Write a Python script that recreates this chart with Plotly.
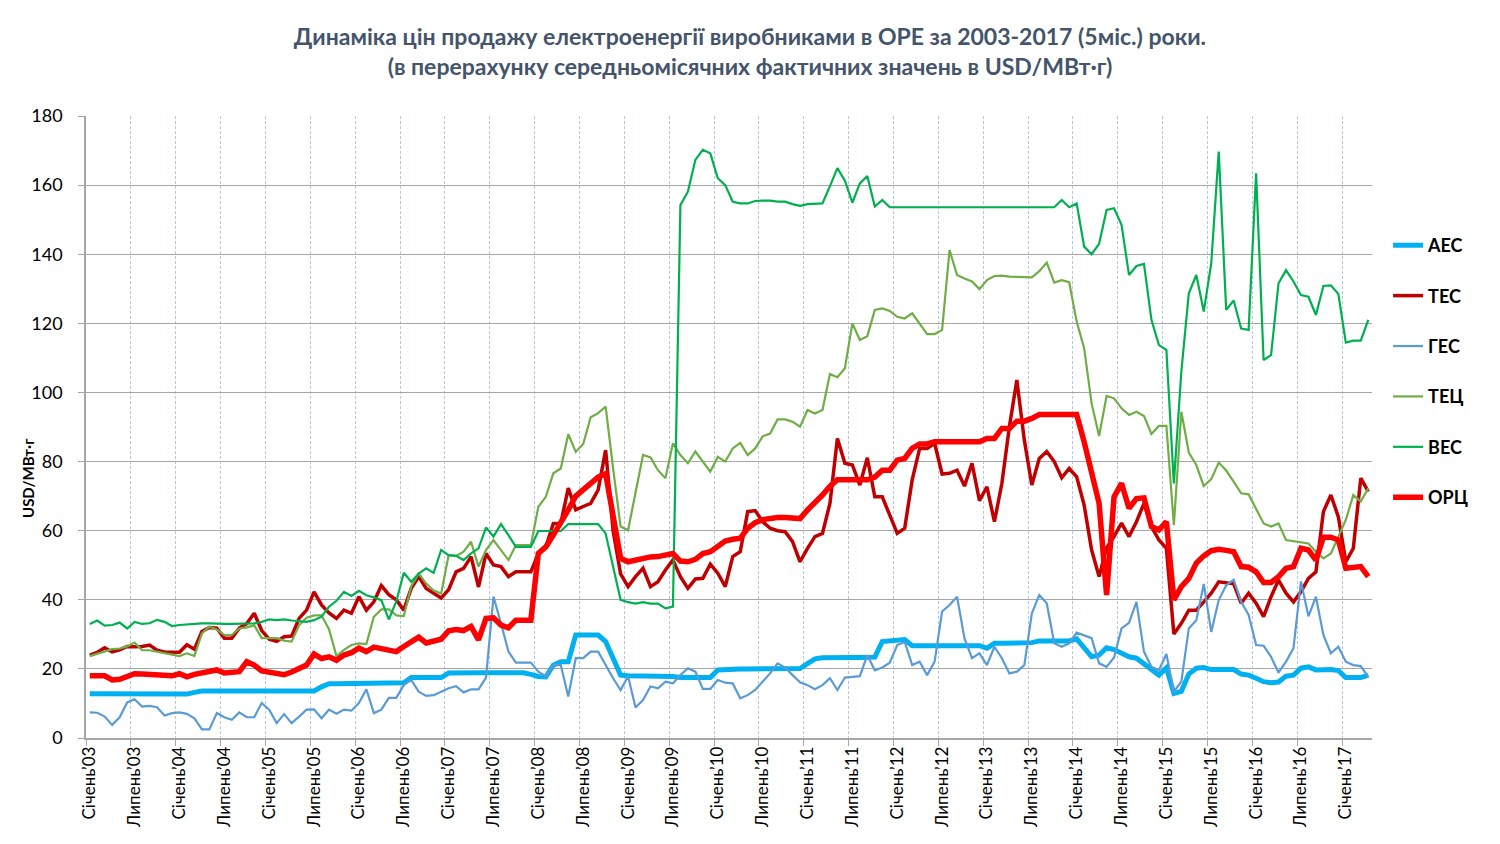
import plotly.graph_objects as go

months = list(range(172))

tick_labels = ["Січень’03", "Липень’03", "Січень’04", "Липень’04", "Січень’05", "Липень’05",
               "Січень’06", "Липень’06", "Січень’07", "Липень’07", "Січень’08", "Липень’08",
               "Січень’09", "Липень’09", "Січень’10", "Липень’10", "Січень’11", "Липень’11",
               "Січень’12", "Липень’12", "Січень’13", "Липень’13", "Січень’14", "Липень’14",
               "Січень’15", "Липень’15", "Січень’16", "Липень’16", "Січень’17"]
tick_positions = [0, 6, 12, 18, 24, 30, 36, 42, 48, 54, 60, 66, 72, 78, 84, 90, 96, 102,
                  108, 114, 120, 126, 132, 138, 144, 150, 156, 162, 168]
grid_positions = [-0.5, 5.5, 11.5, 17.5, 23.5, 29.5, 35.5, 41.5, 47.5, 53.5, 59.5, 65.5, 71.5,
                  77.5, 83.5, 89.5, 95.5, 101.5, 107.5, 113.5, 119.5, 125.5, 131.5, 137.5,
                  143.5, 149.5, 155.5, 161.5, 167.5]

aes = [12.8, 12.8, 12.8, 12.8, 12.8, 12.8, 12.8, 12.8, 12.8, 12.8, 12.8, 12.8,
       12.8, 12.7, 13.2, 13.6, 13.6, 13.6, 13.6, 13.6, 13.6, 13.6, 13.6, 13.6,
       13.6, 13.6, 13.6, 13.6, 13.6, 13.6, 13.6, 14.8, 15.7, 15.7, 15.7, 15.7,
       15.7, 15.7, 15.7, 15.7, 15.7, 15.7, 16.0, 17.5, 17.5, 17.5, 17.5, 17.5,
       18.8, 18.9, 18.9, 18.9, 18.9, 18.9, 18.9, 18.9, 18.9, 18.9, 18.9, 18.4,
       17.8, 17.7, 21.1, 22.1, 22.1, 29.8, 29.8, 29.8, 29.8, 27.9, 23.0, 18.2,
       18.0, 18.0, 18.0, 18.0, 18.0, 18.0, 17.8, 17.5, 17.5, 17.5, 17.5, 17.5,
       19.7, 19.9, 20.0, 20.0, 20.0, 20.0, 20.0, 20.1, 20.1, 20.1, 20.1, 20.1,
       21.5, 22.9, 23.2, 23.3, 23.3, 23.3, 23.3, 23.3, 23.3, 23.4, 27.9, 28.0,
       28.3, 28.5, 26.7, 26.7, 26.7, 26.7, 26.7, 26.7, 26.7, 26.7, 26.7, 26.7,
       26.0, 27.4, 27.4, 27.4, 27.4, 27.4, 27.6, 28.1, 28.1, 28.1, 28.1, 28.1,
       28.7, 26.0, 23.5, 24.0, 26.1, 25.6, 24.5, 23.5, 23.1, 21.5, 19.7, 18.2,
       20.3, 12.9, 13.5, 18.5, 20.2, 20.4, 19.8, 19.9, 19.9, 19.8, 18.5, 18.2,
       17.3, 16.3, 16.0, 16.2, 17.9, 18.2, 20.2, 20.6, 19.7, 19.9, 19.8, 19.5,
       17.5, 17.5, 17.5, 18.2]

tes = [24.0, 24.8, 26.1, 24.9, 25.5, 26.5, 26.4, 26.5, 26.9, 25.4, 24.9, 24.9,
       24.8, 27.0, 25.7, 30.8, 32.0, 31.8, 28.9, 28.9, 31.8, 33.1, 36.1, 31.1,
       28.6, 28.0, 29.3, 29.5, 34.6, 37.0, 42.3, 38.5, 36.2, 34.6, 37.0, 36.1,
       40.9, 37.0, 39.4, 44.1, 41.5, 40.0, 37.0, 43.3, 46.7, 43.3, 42.0, 40.5,
       42.9, 48.1, 49.1, 52.5, 43.7, 53.4, 50.1, 49.6, 46.7, 48.1, 48.1, 48.1,
       53.4, 55.3, 62.1, 62.1, 72.3, 66.0, 67.0, 67.9, 71.8, 83.3, 60.0, 47.5,
       43.8, 46.7, 49.1, 43.8, 45.2, 48.6, 51.5, 46.7, 43.3, 46.0, 46.2, 50.3,
       47.7, 43.8, 52.5, 53.9, 65.5, 65.8, 62.6, 60.7, 60.0, 59.7, 56.8, 51.0,
       54.9, 58.3, 59.2, 67.9, 86.7, 79.5, 79.0, 73.2, 81.1, 69.8, 69.8, 64.5,
       59.2, 60.7, 74.7, 83.8, 83.8, 85.3, 76.4, 76.6, 77.5, 72.9, 79.5, 68.7,
       72.7, 62.6, 73.7, 90.1, 103.6, 86.2, 73.2, 80.9, 82.9, 80.0, 75.3, 78.0,
       75.6, 67.4, 54.4, 46.7, 55.0, 58.3, 62.2, 58.3, 62.6, 67.9, 61.2, 57.3,
       54.9, 30.1, 33.2, 37.0, 37.0, 39.4, 41.9, 45.2, 44.8, 44.6, 39.0, 41.9,
       39.0, 35.1, 40.9, 45.7, 41.9, 39.4, 42.3, 46.2, 48.1, 65.5, 70.3, 64.0,
       51.0, 54.9, 75.2, 71.3]

ges = [7.4, 7.3, 6.2, 3.8, 6.0, 10.3, 11.2, 9.1, 9.3, 8.9, 6.5, 7.2,
       7.4, 7.0, 5.7, 2.5, 2.5, 7.2, 6.0, 5.3, 7.4, 6.0, 6.0, 10.1,
       8.2, 4.3, 6.9, 4.3, 6.2, 8.2, 8.3, 5.7, 8.2, 7.0, 8.2, 7.9,
       10.1, 14.1, 7.2, 8.2, 11.6, 11.6, 15.3, 16.8, 13.4, 12.2, 12.4, 13.4,
       14.4, 15.0, 13.2, 14.1, 14.1, 17.5, 40.9, 33.2, 25.0, 21.8, 21.8, 21.8,
       19.2, 17.9, 21.1, 21.1, 12.0, 23.1, 23.1, 25.0, 25.0, 21.1, 17.3, 13.9,
       17.9, 8.8, 11.0, 14.9, 14.4, 16.3, 15.8, 18.2, 20.2, 19.2, 14.2, 14.2,
       16.8, 16.0, 15.8, 11.5, 12.4, 13.9, 16.3, 18.7, 21.6, 20.4, 18.2, 16.1,
       15.3, 14.1, 15.3, 17.3, 13.9, 17.5, 17.7, 17.9, 24.0, 19.6, 20.4, 21.8,
       26.9, 27.8, 21.1, 22.1, 18.2, 22.1, 36.6, 38.5, 40.9, 28.8, 23.1, 24.5,
       21.1, 26.4, 23.1, 18.7, 19.2, 21.1, 36.0, 41.4, 39.0, 27.4, 26.4, 27.4,
       30.5, 29.6, 28.9, 21.6, 20.6, 23.3, 31.7, 33.3, 39.4, 25.0, 20.6, 19.6,
       24.3, 13.4, 16.3, 31.7, 34.1, 44.6, 30.7, 39.9, 44.2, 45.8, 39.4, 35.6,
       26.9, 26.7, 23.5, 18.9, 22.1, 26.0, 45.3, 35.2, 40.9, 29.8, 24.5, 26.4,
       22.1, 21.1, 20.8, 17.7]

tec = [23.7, 24.3, 25.0, 25.7, 25.9, 26.5, 27.6, 25.4, 25.4, 25.0, 24.5, 24.0,
       23.7, 24.5, 23.7, 30.3, 32.2, 31.4, 29.8, 29.8, 31.7, 32.0, 32.6, 28.9,
       28.9, 28.9, 28.2, 27.9, 32.6, 34.8, 35.5, 35.5, 31.5, 23.7, 25.5, 26.9,
       27.4, 27.2, 35.1, 37.2, 37.2, 35.5, 35.3, 43.9, 47.6, 44.7, 42.7, 41.8,
       52.9, 52.7, 53.9, 56.8, 49.6, 54.4, 57.3, 54.4, 51.5, 55.8, 55.8, 55.8,
       66.9, 69.8, 76.6, 78.0, 87.9, 82.8, 85.1, 92.8, 94.0, 95.9, 78.0, 61.2,
       60.1, 71.0, 81.9, 81.2, 77.5, 75.2, 85.3, 81.9, 79.5, 82.9, 80.0, 77.1,
       81.4, 80.0, 83.8, 85.4, 81.9, 83.8, 87.3, 88.1, 92.2, 92.2, 91.5, 90.1,
       94.9, 93.9, 94.9, 105.3, 104.4, 107.0, 120.0, 115.2, 116.3, 123.9, 124.3, 123.6,
       121.9, 121.4, 122.9, 119.8, 116.9, 116.9, 118.1, 141.2, 134.0, 133.0, 132.1, 129.9,
       132.5, 133.7, 133.8, 133.5, 133.5, 133.3, 133.3, 135.1, 137.6, 131.8, 132.5, 131.9,
       120.5, 112.8, 96.8, 87.4, 99.0, 98.3, 95.4, 93.5, 94.4, 93.2, 88.0, 90.3,
       90.3, 61.6, 94.4, 82.6, 79.0, 72.9, 74.9, 79.7, 77.4, 74.2, 70.8, 70.5,
       66.5, 62.1, 61.2, 62.1, 57.3, 57.0, 56.8, 56.3, 53.9, 52.0, 53.4, 58.3,
       63.1, 70.3, 68.4, 72.3]

ves = [33.0, 34.0, 32.5, 32.7, 33.4, 31.7, 33.6, 33.0, 33.2, 34.2, 33.6, 32.4,
       32.7, 32.9, 33.0, 33.2, 33.2, 33.0, 33.0, 33.0, 33.0, 33.0, 33.2, 33.6,
       34.3, 34.1, 34.3, 34.0, 33.8, 33.6, 34.1, 35.1, 38.0, 39.7, 42.3, 41.1,
       42.6, 41.3, 40.7, 39.9, 34.3, 39.5, 47.8, 45.2, 47.6, 49.1, 47.8, 54.4,
       52.9, 52.7, 51.5, 53.4, 54.9, 60.9, 58.3, 61.9, 58.7, 55.3, 55.3, 55.3,
       59.9, 59.9, 59.9, 59.9, 61.9, 61.9, 61.9, 61.9, 61.9, 59.2, 49.5, 40.0,
       39.3, 38.9, 39.3, 38.9, 38.9, 37.5, 38.0, 154.2, 158.1, 167.3, 170.2, 169.2,
       162.0, 160.0, 155.2, 154.7, 154.7, 155.4, 155.5, 155.5, 155.2, 155.2, 154.5, 154.0,
       154.5, 154.7, 154.7, 159.7, 164.9, 161.3, 154.9, 160.5, 162.6, 153.8, 155.7, 153.6,
       153.6, 153.6, 153.6, 153.6, 153.6, 153.6, 153.6, 153.6, 153.6, 153.6, 153.6, 153.6,
       153.6, 153.6, 153.6, 153.6, 153.6, 153.6, 153.6, 153.6, 153.6, 153.6, 155.7, 153.6,
       154.7, 142.2, 140.0, 143.0, 152.8, 153.3, 148.5, 134.0, 136.6, 137.2, 121.0, 113.7,
       112.3, 73.7, 106.0, 128.7, 134.0, 123.4, 137.4, 169.7, 123.9, 126.6, 118.5, 118.1,
       163.4, 109.4, 110.8, 131.6, 135.4, 132.1, 128.2, 127.7, 122.4, 130.8, 131.0, 128.5,
       114.4, 115.0, 115.0, 121.0]

orc = [18.0, 18.1, 18.0, 16.8, 17.0, 17.8, 18.6, 18.5, 18.4, 18.4, 18.2, 18.0,
       18.6, 17.7, 18.4, 18.8, 19.2, 19.7, 18.8, 19.0, 19.2, 22.1, 21.1, 19.4,
       18.9, 18.6, 18.3, 19.1, 20.1, 21.1, 24.3, 23.0, 23.5, 22.5, 24.0, 24.7,
       26.0, 25.0, 26.3, 25.8, 25.2, 25.0, 26.5, 28.0, 29.2, 27.5, 28.1, 28.6,
       31.0, 31.4, 31.1, 32.3, 28.4, 34.6, 34.8, 32.7, 31.9, 34.1, 34.1, 34.1,
       53.4, 55.3, 58.7, 62.1, 66.0, 70.0, 72.0, 73.7, 75.5, 76.5, 63.0, 52.0,
       51.0, 51.5, 52.3, 52.4, 52.5, 53.0, 53.4, 51.2, 51.0, 51.7, 53.4, 53.9,
       55.3, 57.0, 57.5, 57.8, 60.7, 62.3, 63.2, 63.6, 63.8, 63.8, 63.6, 63.5,
       66.0, 67.9, 70.3, 72.9, 74.7, 74.7, 74.7, 74.7, 74.7, 75.5, 77.5, 77.5,
       80.4, 80.9, 83.8, 85.1, 85.1, 85.7, 85.7, 85.7, 85.7, 85.7, 85.7, 85.7,
       86.7, 86.7, 89.6, 89.6, 91.7, 91.7, 92.5, 93.6, 93.6, 93.6, 93.6, 93.6,
       93.6, 85.7, 77.5, 67.9, 41.4, 69.8, 73.7, 66.5, 69.3, 69.5, 61.2, 60.2,
       62.6, 40.0, 43.8, 46.2, 50.6, 52.7, 54.2, 54.6, 54.3, 53.9, 49.6, 49.4,
       48.1, 45.0, 45.0, 46.7, 49.1, 49.6, 54.9, 54.4, 51.5, 58.1, 58.1, 57.3,
       49.1, 49.4, 49.6, 46.7]

series = [
    ("АЕС", aes, "#00B0F0", 5),
    ("ТЕС", tes, "#C00000", 3.5),
    ("ГЕС", ges, "#5B9BD5", 2.2),
    ("ТЕЦ", tec, "#70AD47", 2.2),
    ("ВЕС", ves, "#00B050", 2.2),
    ("ОРЦ", orc, "#FF0000", 5.5),
]

fig = go.Figure()
for name, vals, color, width in series:
    fig.add_trace(go.Scatter(x=months, y=vals, name=name, mode="lines",
                             legendgroup=name,
                             line=dict(color=color, width=width)))

FONT = "Lato"
fig.update_layout(
    width=1492, height=836,
    paper_bgcolor="white", plot_bgcolor="white",
    margin=dict(l=78, r=128, t=108, b=106),
    font=dict(family=FONT, color="#000000"),
    title=dict(
        text="Динаміка цін продажу електроенергії виробниками в ОРЕ за 2003-2017 (5міс.) роки.<br>"
             "(в перерахунку середньомісячних фактичних значень в USD/МВт·г)",
        x=0.4973, xanchor="center", xref="container",
        y=0.9557, yanchor="middle", yref="container",
        font=dict(family=FONT, size=23, color="#44546A", weight="bold"),
    ),
    showlegend=True,
    legend=dict(
        x=1.0125, xanchor="left", y=0.8215, yanchor="top",
        font=dict(family=FONT, size=18, color="#000000", weight="bold"),
        tracegroupgap=24, bgcolor="rgba(0,0,0,0)", itemwidth=30,
    ),
    xaxis=dict(
        range=[-0.5, 171.5],
        tickmode="array", tickvals=tick_positions, ticktext=tick_labels,
        tickangle=-90, tickfont=dict(family=FONT, size=17, color="#000000"),
        showgrid=False, ticks="",
        showline=True, linecolor="#A6A6A6", linewidth=1.5,
        zeroline=False,
        minor=dict(tickmode="array", tickvals=grid_positions, showgrid=True,
                   gridcolor="#B4C7E7", gridwidth=1, griddash="3px,2px",
                   ticks="outside", ticklen=6, tickcolor="#A6A6A6", tickwidth=1),
    ),
    yaxis=dict(
        range=[0, 180], dtick=20, tick0=0,
        tickfont=dict(family=FONT, size=18, color="#000000"),
        showgrid=True, gridcolor="#A6A6A6", gridwidth=1.2,
        showline=True, linecolor="#A6A6A6", linewidth=1.5,
        ticks="outside", ticklen=6, tickcolor="#A6A6A6",
        ticklabelstandoff=12,
        zeroline=False,
    ),
    annotations=[dict(
        text="USD/МВт·г", textangle=-90, showarrow=False,
        xref="paper", yref="paper", x=-0.0451, y=0.418,
        xanchor="center", yanchor="middle",
        font=dict(family=FONT, size=15, color="#000000", weight="bold"),
    )],
)

fig.write_html("out.html")
